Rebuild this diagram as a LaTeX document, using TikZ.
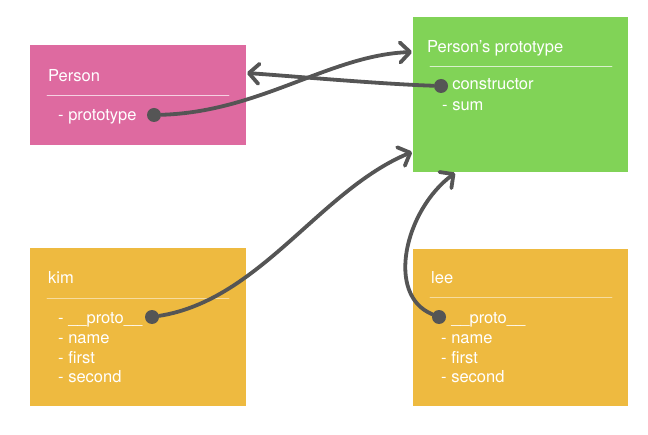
\documentclass[tikz,border=0pt]{standalone}
\usepackage{fontspec}
\setmainfont{TeX Gyre Heros}
\usetikzlibrary{arrows.meta}
\definecolor{personpink}{RGB}{222,106,160}
\definecolor{protogreen}{RGB}{129,211,87}
\definecolor{objyellow}{RGB}{238,186,64}
\definecolor{linkgray}{RGB}{85,85,85}
\begin{document}
\begin{tikzpicture}[x=1bp, y=-1bp, line join=round, line cap=round,
    font=\fontsize{16.5bp}{19.5bp}\selectfont,
    box/.style={anchor=north west, inner sep=0, minimum width=216bp},
    title/.style={anchor=base west, text=white, inner sep=0},
    item/.style={anchor=base west, text=white, inner sep=0},
    divider/.style={white, opacity=0.7, line width=0.8bp},
    dot/.style={circle, fill=linkgray, minimum size=14bp, inner sep=0},
    link/.style={draw=linkgray, line width=3.8bp, -{Straight Barb[round, length=10bp, width=20bp]}}]
    \useasboundingbox (0,0) rectangle (648,435);
    %\draw[gray!30] (0,0) grid[step=50] (648,435);
    % boxes
    \node[box, fill=personpink, minimum height=100bp] (person) at (30,45) {};
    \node[box, fill=protogreen, minimum width=215bp, minimum height=155bp] (proto) at (413,17) {};
    \node[box, fill=objyellow, minimum height=158bp] (kim) at (30,248) {};
    \node[box, fill=objyellow, minimum width=215bp, minimum height=157bp] (lee) at (413,249) {};
    % Person
    \node[title] (personName) at (48,81.5) {Person};
    \draw[divider] (47,95) -- (229,95);
    \node[item] (personItem) at (58,121) {- prototype};
    % Person's prototype
    \node[title] (protoName) at (427,53) {Person’s prototype};
    \draw[divider] (430,66.5) -- (612,66.5);
    \node[item] (protoCtor) at (442,90) {- constructor};
    \node[item] (protoSum) at (442,111) {- sum};
    % kim, lee
    \node[title] (kimName) at (48,284) {kim};
    \draw[divider, opacity=0.5] (47,298.5) -- (229,298.5);
    \node[title] (leeName) at (431,283.5) {lee};
    \draw[divider, opacity=0.5] (430,297.5) -- (612,297.5);
    \foreach \t [count=\i from 0] in {- \_\_proto\_\_, - name, - first, - second}{
        \node[item] (kim\i) at (58,{324+19.5*\i}) {\t};
        \node[item] (lee\i) at (441,{324+19.5*\i}) {\t};
    }
    % links
    \node[dot] (personDot) at (154,115) {};
    \node[dot] (ctorDot) at (441,86) {};
    \node[dot] (kimDot) at (152,317) {};
    \node[dot] (leeDot) at (439,317) {};
    \coordinate (protoIn) at (412,52);
    \coordinate (personIn) at (247,73);
    \coordinate (protoLow) at (412,152);
    \coordinate (protoBottom) at (455,173);
    \draw[link] (personDot) .. controls (260,112) and (330,55) .. (protoIn);
    \draw[link] (ctorDot) .. controls (380,84) and (290,76) .. (personIn);
    \draw[link] (kimDot) .. controls (260,300) and (320,190) .. (protoLow);
    \draw[link] (leeDot) .. controls (385,295) and (405,210) .. (protoBottom);
\end{tikzpicture}
\end{document}
